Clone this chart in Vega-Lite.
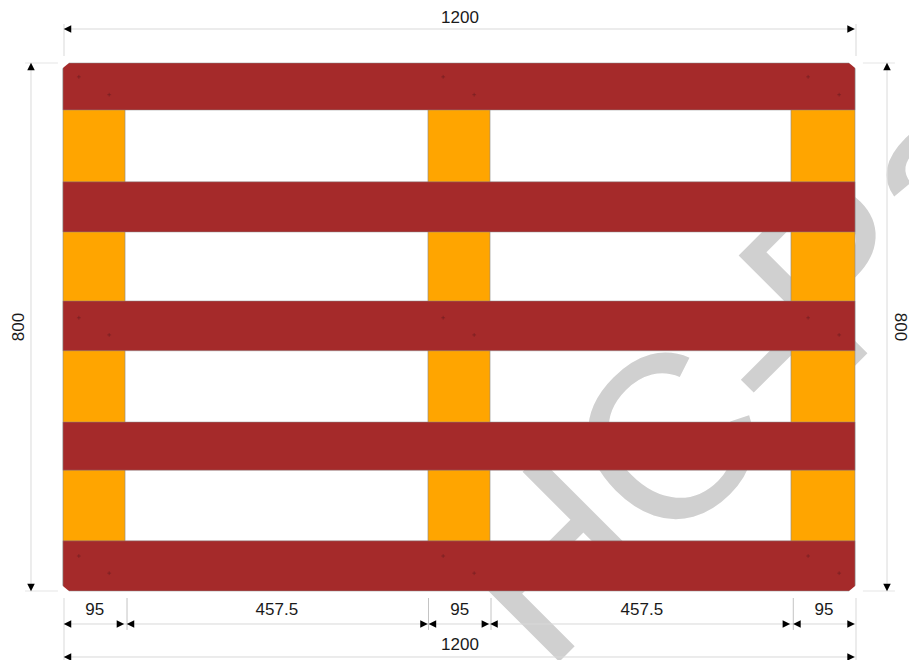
{"$schema":"https://vega.github.io/schema/vega-lite/v6.json","width":909,"height":660,"padding":0,"autosize":{"type":"none"},"background":"white","config":{"view":{"stroke":null},"text":{"font":"Liberation Sans"}},
"encoding":{"x":{"type":"quantitative","scale":{"domain":[-95.45,1281.82],"nice":false,"zero":false},"axis":null},"y":{"type":"quantitative","scale":{"domain":[-95.45,904.55],"reverse":true,"nice":false,"zero":false},"axis":null}},
"layer":[
{"data":{"values":[{"text":"HC-Pa","x":1031,"y":478}]},"mark":{"type":"text","font":"Liberation Sans","fontSize":233,"angle":315,"align":"center","baseline":"middle","color":"#d0d0d0"},"encoding":{"x":{"field":"x","type":"quantitative"},"y":{"field":"y","type":"quantitative"},"text":{"field":"text"}}},
{"data":{"values":[{"x":0,"x2":94},{"x":553,"x2":647},{"x":1103,"x2":1200}]},"mark":{"type":"rect","color":"#FFA500","stroke":"#8a8a8a","strokeWidth":0.6},"encoding":{"x":{"field":"x","type":"quantitative"},"x2":{"field":"x2"},"y":{"datum":1},"y2":{"datum":799}}},
{"data":{"values":[{"y":0,"y2":71.2},{"y":180,"y2":256},{"y":360.6,"y2":436},{"y":544,"y2":617},{"y":724,"y2":800}]},"mark":{"type":"rect","color":"#A52A2A","stroke":"#8a8a8a","strokeWidth":0.5},"encoding":{"x":{"datum":0},"x2":{"datum":1200},"y":{"field":"y","type":"quantitative"},"y2":{"field":"y2"}}},
{"data":{"values":[{"corner":"tl","x":-2,"y":-2,"y2":9},{"corner":"tl","x":9,"y":-2,"y2":0},{"corner":"tr","x":1191,"y":-2,"y2":0},{"corner":"tr","x":1202,"y":-2,"y2":9},{"corner":"bl","x":-2,"y":791,"y2":802},{"corner":"bl","x":9,"y":800,"y2":802},{"corner":"br","x":1191,"y":800,"y2":802},{"corner":"br","x":1202,"y":791,"y2":802}]},"mark":{"type":"area","color":"white","opacity":1},"encoding":{"x":{"field":"x","type":"quantitative"},"y":{"field":"y","type":"quantitative"},"y2":{"field":"y2"},"detail":{"field":"corner"}}},
{"data":{"values":[{"x":24,"y":21},{"x":70,"y":48},{"x":576,"y":21},{"x":623,"y":48},{"x":1129,"y":21},{"x":1176,"y":48},{"x":24,"y":386},{"x":70,"y":412},{"x":576,"y":386},{"x":623,"y":412},{"x":1129,"y":386},{"x":1176,"y":412},{"x":24,"y":747},{"x":70,"y":773},{"x":576,"y":747},{"x":623,"y":773},{"x":1129,"y":747},{"x":1176,"y":773}]},"mark":{"type":"point","shape":"M-1,0L1,0M0,-1L0,1","size":14,"filled":false,"stroke":"#6e1f22","strokeWidth":0.6,"opacity":1},"encoding":{"x":{"field":"x","type":"quantitative"},"y":{"field":"y","type":"quantitative"}}},
{"data":{"values":[{"x":1.5,"x2":1201.5,"y":-51.5},{"x":1.5,"x2":1201.5,"y":850},{"x":1.5,"x2":1201.5,"y":900}]},"mark":{"type":"rule","color":"#d9d9d9","strokeWidth":1},"encoding":{"x":{"field":"x","type":"quantitative"},"x2":{"field":"x2"},"y":{"field":"y","type":"quantitative"}}},
{"data":{"values":[{"x":-48.5,"y":5,"y2":795},{"x":1248.5,"y":5,"y2":795}]},"mark":{"type":"rule","color":"#e0e0e0","strokeWidth":1.2},"encoding":{"x":{"field":"x","type":"quantitative"},"y":{"field":"y","type":"quantitative"},"y2":{"field":"y2"}}},
{"data":{"values":[{"x":1.5,"y":-59,"y2":-10.6},{"x":1201.5,"y":-59,"y2":-10.6},{"x":1.5,"y":810.6,"y2":904.5},{"x":1201.5,"y":810.6,"y2":904.5}]},"mark":{"type":"rule","color":"#e6e6e6","strokeWidth":1.5},"encoding":{"x":{"field":"x","type":"quantitative"},"y":{"field":"y","type":"quantitative"},"y2":{"field":"y2"}}},
{"data":{"values":[{"x":-57.6,"x2":-7.6,"y":0},{"x":-57.6,"x2":-7.6,"y":800},{"x":1212,"x2":1260.6,"y":0},{"x":1212,"x2":1260.6,"y":800}]},"mark":{"type":"rule","color":"#e6e6e6","strokeWidth":1.2},"encoding":{"x":{"field":"x","type":"quantitative"},"x2":{"field":"x2"},"y":{"field":"y","type":"quantitative"}}},
{"data":{"values":[{"x":97,"y":810.6,"y2":859},{"x":553.8,"y":810.6,"y2":859},{"x":648.5,"y":810.6,"y2":859},{"x":1106.5,"y":810.6,"y2":859}]},"mark":{"type":"rule","color":"#c4c4c4","strokeWidth":1},"encoding":{"x":{"field":"x","type":"quantitative"},"y":{"field":"y","type":"quantitative"},"y2":{"field":"y2"}}},
{"data":{"values":[{"x":6.8,"y":-51.5,"dir":"left"},{"x":1194,"y":-51.5,"dir":"right"},{"x":6.8,"y":900,"dir":"left"},{"x":1194,"y":900,"dir":"right"},{"x":6.8,"y":850,"dir":"left"},{"x":87,"y":850,"dir":"right"},{"x":102.3,"y":850,"dir":"left"},{"x":547,"y":850,"dir":"right"},{"x":559.8,"y":850,"dir":"left"},{"x":640,"y":850,"dir":"right"},{"x":653,"y":850,"dir":"left"},{"x":1096,"y":850,"dir":"right"},{"x":1112,"y":850,"dir":"left"},{"x":1194,"y":850,"dir":"right"},{"x":-48.5,"y":5.3,"dir":"up"},{"x":-48.5,"y":794.7,"dir":"down"},{"x":1248.5,"y":5.3,"dir":"up"},{"x":1248.5,"y":794.7,"dir":"down"}]},"mark":{"type":"point","filled":true,"color":"black","opacity":1,"size":56},"encoding":{"x":{"field":"x","type":"quantitative"},"y":{"field":"y","type":"quantitative"},"shape":{"field":"dir","type":"nominal","legend":null,"scale":{"domain":["left","right","up","down"],"range":["M-1,0L1,-1L1,1Z","M1,0L-1,-1L-1,1Z","M0,-1L-1,1L1,1Z","M0,1L-1,-1L1,-1Z"]}}}},
{"data":{"values":[{"text":"1200","x":601.5,"y":-68},{"text":"95","x":48,"y":829},{"text":"457.5","x":324,"y":829},{"text":"95","x":601,"y":829},{"text":"457.5","x":877,"y":829},{"text":"95","x":1153,"y":829},{"text":"1200","x":601.5,"y":882}]},"mark":{"type":"text","font":"Liberation Sans","fontSize":17,"align":"center","baseline":"middle","color":"#1a1a1a"},"encoding":{"x":{"field":"x","type":"quantitative"},"y":{"field":"y","type":"quantitative"},"text":{"field":"text"}}},
{"data":{"values":[{"text":"800","x":-67,"y":400}]},"mark":{"type":"text","font":"Liberation Sans","fontSize":17,"angle":270,"align":"center","baseline":"middle","color":"#1a1a1a"},"encoding":{"x":{"field":"x","type":"quantitative"},"y":{"field":"y","type":"quantitative"},"text":{"field":"text"}}},
{"data":{"values":[{"text":"800","x":1268,"y":400}]},"mark":{"type":"text","font":"Liberation Sans","fontSize":17,"angle":90,"align":"center","baseline":"middle","color":"#1a1a1a"},"encoding":{"x":{"field":"x","type":"quantitative"},"y":{"field":"y","type":"quantitative"},"text":{"field":"text"}}}
]}
